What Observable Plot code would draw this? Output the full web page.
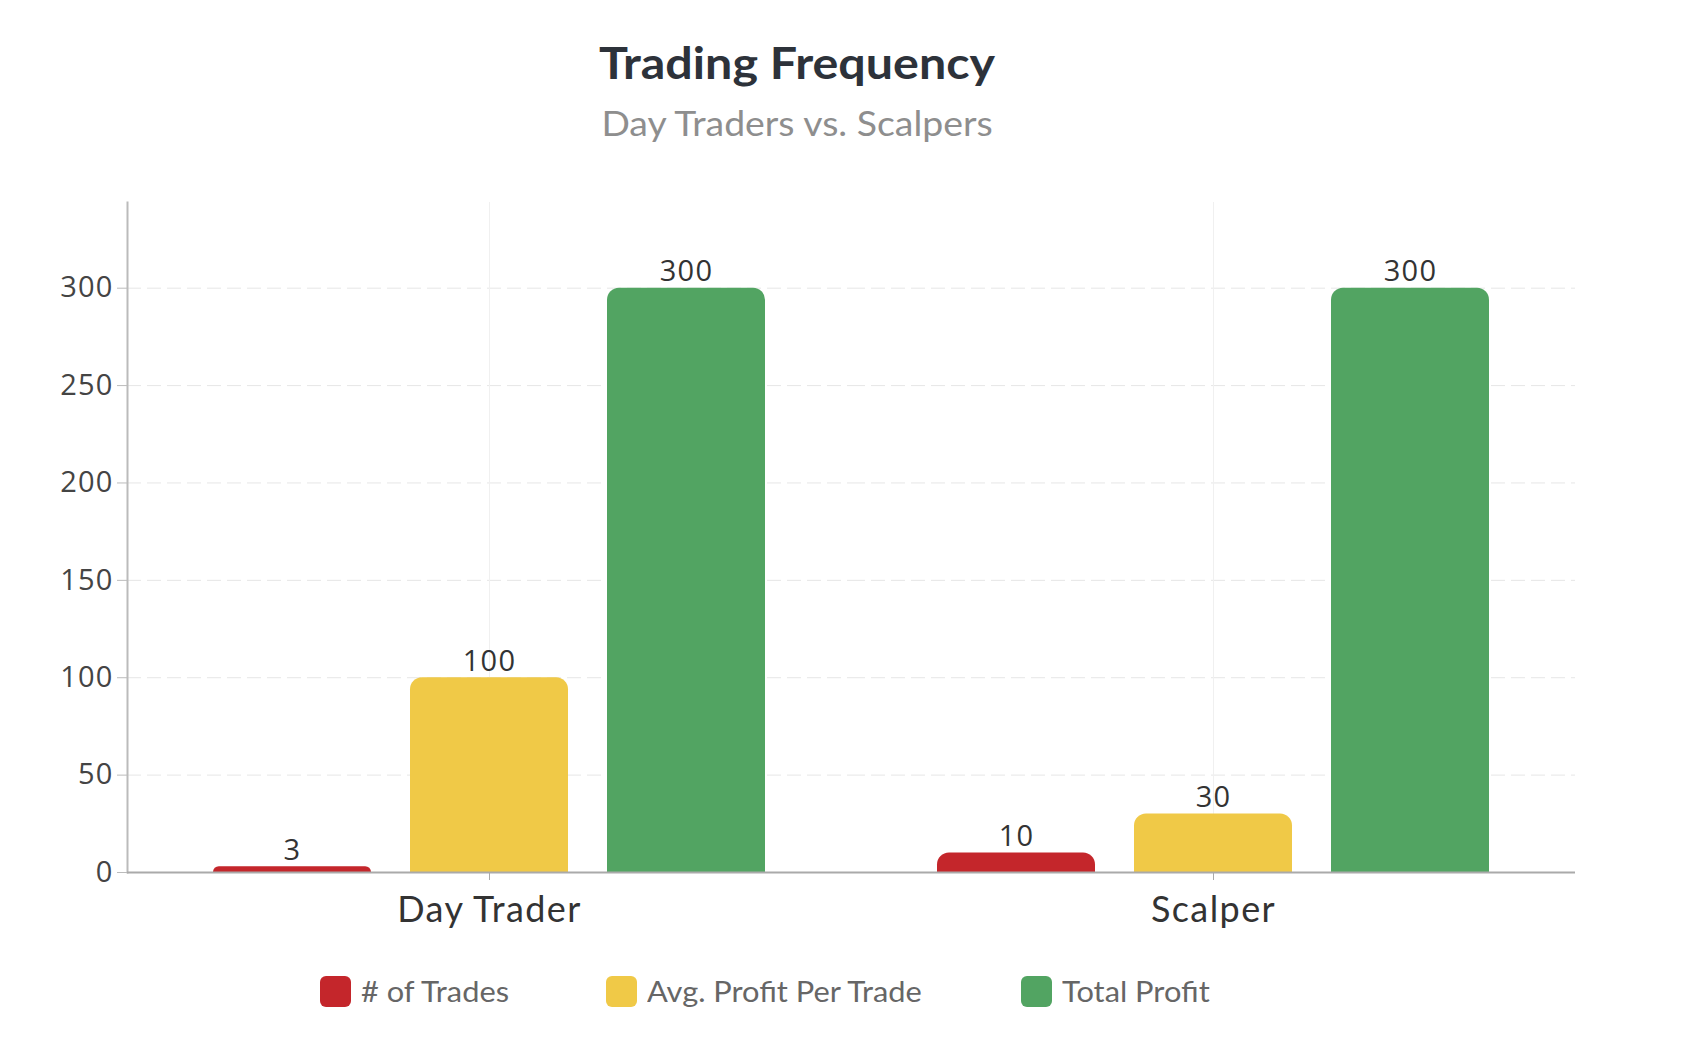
<!DOCTYPE html>
<html>
<head>
<meta charset="utf-8">
<script src="https://cdn.jsdelivr.net/npm/d3@7"></script>
<script src="https://cdn.jsdelivr.net/npm/@observablehq/plot@0.6"></script>
<style>
  html, body { margin: 0; padding: 0; background: #fff; }
  body { width: 1690px; height: 1050px; position: relative; overflow: hidden; font-family: Lato, "Open Sans", sans-serif; }
  #title { position: absolute; left: 0; width: 1594px; top: 40px; text-align: center; font: bold 44px/44px Lato; color: #2d323a; transform: scaleX(1.1); }
  #subtitle { position: absolute; left: 0; width: 1594px; top: 106px; text-align: center; font: 34px/34px Lato; color: #8e8e8e; transform: scaleX(1.1); }
  #chart { position: absolute; left: 0; top: 180px; }
  #chart g[aria-label="fx-axis tick label"] text { letter-spacing: 1.4px; }
  #chart g[aria-label="y-axis tick label"] text { letter-spacing: 1.2px; }
  #chart g[aria-label="text"] text { letter-spacing: 1.2px; }
  .item { position: absolute; top: 975px; height: 32px; }
  .sw { position: absolute; left: 0; top: 1px; width: 31px; height: 31px; border-radius: 6px; }
  .lt { position: absolute; top: 0; white-space: nowrap; font: 28px/32px Lato; color: #666; transform: scaleX(1.1); transform-origin: left center; }
</style>
</head>
<body>
<div id="title">Trading Frequency</div>
<div id="subtitle">Day Traders vs. Scalpers</div>
<div id="chart"></div>
<div id="legend"></div>
<script>
const categories = ["Day Trader", "Scalper"];
const series = ["# of Trades", "Avg. Profit Per Trade", "Total Profit"];
const numTrades = [3, 10];
const avgProfit = [100, 30];
const totalProfit = [300, 300];
const colors = ["#c4262b", "#f0c947", "#52a462"];
const yTicks = [0, 50, 100, 150, 200, 250, 300];

const seriesValues = [numTrades, avgProfit, totalProfit];
const data = categories.flatMap((c, i) =>
  series.map((s, j) => ({category: c, series: s, value: seriesValues[j][i]}))
);

const chart = Plot.plot({
  width: 1690,
  height: 772,
  marginLeft: 127,
  marginRight: 115,
  marginTop: 22,
  marginBottom: 80,
  style: {fontFamily: "Lato", background: "transparent"},
  fx: {domain: categories, padding: 0, label: null},
  x: {domain: series, paddingInner: 0.2, paddingOuter: 0.43, axis: null},
  y: {domain: [0, 344], axis: null},
  color: {domain: series, range: colors},
  marks: [
    Plot.gridY(yTicks.slice(1), {stroke: "#e6e6e6", strokeOpacity: 1, strokeDasharray: "14,6"}),
    Plot.gridFx({stroke: "#f0f0f0", strokeOpacity: 1}),
    Plot.barY(data, {fx: "category", x: "series", y: "value", fill: "series", ry1: 12}),
    Plot.text(data, {fx: "category", x: "series", y: "value", text: d => String(d.value),
      lineAnchor: "bottom", dy: -7, fontSize: 29, fill: "#333", fontFamily: "Open Sans"}),
    Plot.frame({anchor: "left", facetAnchor: "left", stroke: "#bbb", strokeWidth: 2}),
    Plot.ruleY([0], {stroke: "#aaa", strokeWidth: 2}),
    Plot.axisY(yTicks, {anchor: "left", tickSize: 10, tickPadding: 4, fontSize: 29, fill: "#444",
      stroke: "#bbb", fontFamily: "Open Sans", label: null}),
    Plot.axisFx({anchor: "bottom", tickSize: 8, tickPadding: 16, fontSize: 36, fill: "#333",
      stroke: "#aaa", label: null})
  ]
});
document.getElementById("chart").appendChild(chart);

const legend = document.getElementById("legend");
const swatchLeft = [320, 606, 1021];
series.forEach((s, i) => {
  const item = document.createElement("div");
  item.className = "item";
  item.style.left = swatchLeft[i] + "px";
  const sw = document.createElement("div");
  sw.className = "sw";
  sw.style.background = colors[i];
  const t = document.createElement("span");
  t.className = "lt";
  t.style.left = "41px";
  t.textContent = s;
  item.appendChild(sw);
  item.appendChild(t);
  legend.appendChild(item);
});
</script>
</body>
</html>
